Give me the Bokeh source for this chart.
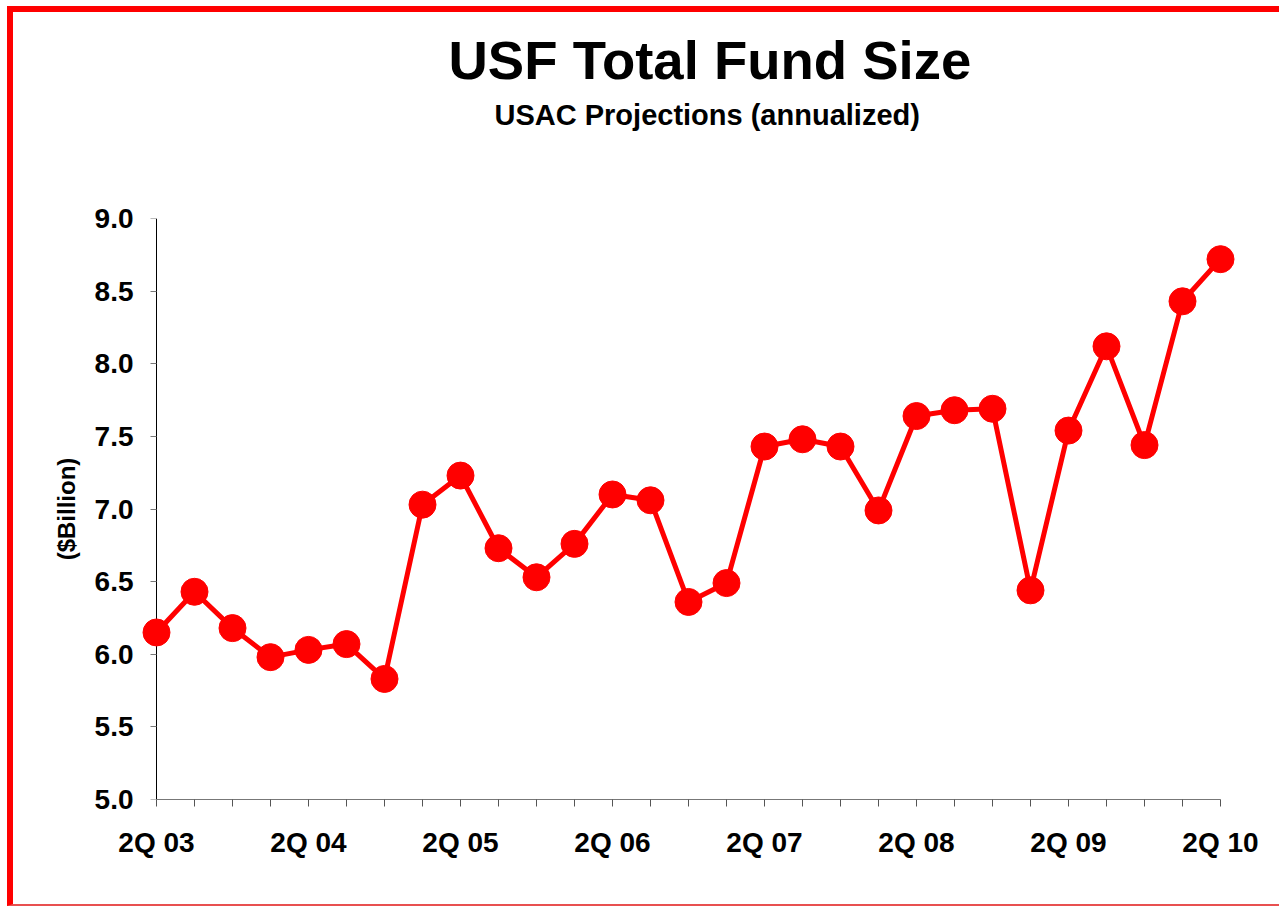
from bokeh.plotting import figure
from bokeh.models import Range1d, FixedTicker, NumeralTickFormatter, LinearAxis, Title
from bokeh.embed import file_html
from bokeh.resources import INLINE

quarters = ["2Q 03", "3Q 03", "4Q 03", "1Q 04", "2Q 04", "3Q 04", "4Q 04",
            "1Q 05", "2Q 05", "3Q 05", "4Q 05", "1Q 06", "2Q 06", "3Q 06",
            "4Q 06", "1Q 07", "2Q 07", "3Q 07", "4Q 07", "1Q 08", "2Q 08",
            "3Q 08", "4Q 08", "1Q 09", "2Q 09", "3Q 09", "4Q 09", "1Q 10",
            "2Q 10"]
fund_size = [6.15, 6.43, 6.18, 5.98, 6.03, 6.07, 5.83, 7.03, 7.23, 6.73,
             6.53, 6.76, 7.10, 7.06, 6.36, 6.49, 7.43, 7.48, 7.43, 6.99,
             7.64, 7.68, 7.69, 6.44, 7.54, 8.12, 7.44, 8.43, 8.72]
y_ticks = [5.0, 5.5, 6.0, 6.5, 7.0, 7.5, 8.0, 8.5, 9.0]

title_text = "USF Total Fund Size"
subtitle_text = "USAC Projections (annualized)"
y_label = "($Billion)"

FONT = "Liberation Sans"
RED = "#FF0000"
W, H = 1266, 892

xs = list(range(len(quarters)))
n = len(quarters) - 1

p = figure(width=W, height=H,
           x_range=Range1d(-0.5, n + 0.5), y_range=Range1d(y_ticks[0], y_ticks[-1]),
           output_backend="svg", toolbar_location=None,
           min_border_left=124, min_border_right=46, min_border_bottom=113,
           min_border_top=206)

p.styles = {"box-sizing": "content-box", "margin-left": "7px", "margin-top": "6px",
            "border-left": "6px solid #FF0000", "border-top": "6px solid #FF0000",
            "border-bottom": "2px solid #E85050"}

p.background_fill_color = "white"
p.border_fill_color = "white"
p.outline_line_color = None
p.grid.visible = False

# titles, from the plot outwards: blank spacer, subtitle, main title
p.title.text = title_text
p.title.text_font = FONT
p.title.text_font_size = "54.5px"
p.title.text_font_style = "bold"
p.title.text_color = "black"
p.title.align = "left"
p.title.offset = 311
p.title.standoff = 12
p.add_layout(Title(text=" ", text_font=FONT, text_font_size="1px",
                   text_color="white", standoff=85), "above")
p.add_layout(Title(text=subtitle_text, text_font=FONT, text_font_size="29px",
                   text_font_style="bold", text_color="black", align="left",
                   offset=357, standoff=0), "above")

# x axis
xa = p.xaxis[0]
xa.ticker = FixedTicker(ticks=xs)
xa.bounds = (0, n)
xa.major_label_overrides = {i: (q if i % 4 == 0 else "") for i, q in enumerate(quarters)}
xa.minor_tick_line_color = None
xa.major_tick_in = 0
xa.major_tick_out = 7
xa.major_tick_line_color = "#555555"
xa.axis_line_color = "#777777"
xa.major_label_text_font = FONT
xa.major_label_text_font_size = "28px"
xa.major_label_text_font_style = "bold"
xa.major_label_text_color = "black"
xa.major_label_standoff = 20

# y axis labels (at the frame edge)
ya = p.yaxis[0]
ya.ticker = FixedTicker(ticks=y_ticks)
ya.formatter = NumeralTickFormatter(format="0.0")
ya.axis_line_color = None
ya.major_tick_line_color = None
ya.minor_tick_line_color = None
ya.major_tick_in = 0
ya.major_tick_out = 0
ya.major_label_text_font = FONT
ya.major_label_text_font_size = "28px"
ya.major_label_text_font_style = "bold"
ya.major_label_text_color = "black"
ya.major_label_standoff = 4
ya.axis_label = y_label
ya.axis_label_text_font = FONT
ya.axis_label_text_font_size = "24px"
ya.axis_label_text_font_style = "bold"
ya.axis_label_text_color = "black"
ya.axis_label_standoff = 12

# y axis line and ticks at the first category
ya2 = LinearAxis(ticker=FixedTicker(ticks=y_ticks), fixed_location=0,
                 axis_line_color="black", major_tick_line_color="#777777",
                 minor_tick_line_color=None, major_tick_in=0, major_tick_out=6,
                 major_label_text_alpha=0, major_label_text_font_size="1px",
                 level="underlay")
p.add_layout(ya2, "left")

p.line(xs, fund_size, line_color=RED, line_width=5)
p.scatter(xs, fund_size, size=27, fill_color=RED, line_color=RED)

open("out.html", "w").write(file_html(p, INLINE))
